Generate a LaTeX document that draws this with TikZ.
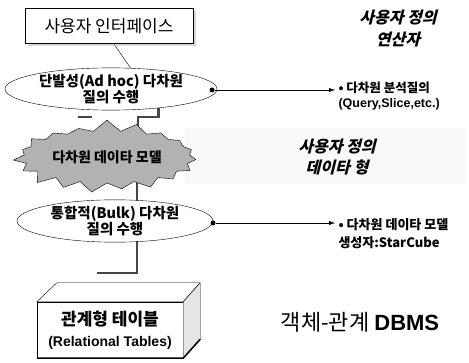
\documentclass[tikz,border=0pt]{standalone}
\usepackage{fontspec}
\setmainfont{Noto Sans CJK KR}
\newfontfamily\krslant{Noto Sans CJK KR}[FakeSlant=0.25]
\newfontfamily\latin{Liberation Sans}
\usetikzlibrary{shapes.geometric, shapes.symbols, shadows, backgrounds, arrows.meta}

\begin{document}
\begin{tikzpicture}[x=1pt, y=-1pt,
	uibx/.style={draw,fill=white,minimum width=168pt,minimum height=35pt,
		drop shadow={shadow xshift=3pt,shadow yshift=-3pt,fill=gray!60}},
	qry/.style={draw,ellipse,fill=white,inner sep=0pt,align=center,
		font=\bfseries\fontsize{14.5}{15}\selectfont},
	gln/.style={draw=gray!55!black,line width=2.5pt},
	dt/.style={circle,fill=black,inner sep=0pt,minimum size=5pt},
	bul/.style={anchor=west,align=left,font=\bfseries\fontsize{12.5}{15}\selectfont},
	usr/.style={align=center,font=\krslant\bfseries\fontsize{16}{22}\selectfont}]
	\useasboundingbox (0,0) rectangle (469,363);
	\fill[gray!5] (185,128) rectangle (466,184);
	\node[uibx,font=\fontsize{17}{18}\selectfont] (ui) at (109,26) {사용자 인터페이스};
	\node[qry,minimum width=212pt,minimum height=42pt] (q1) at (111,89) {단발성(Ad hoc) 다차원\\질의 수행};
	\node[starburst,draw,fill=gray!60,starburst points=19,starburst point height=12pt,
		random starburst=7,minimum width=190pt,minimum height=76pt,
		font=\bfseries\fontsize{14}{14}\selectfont] (st) at (107,157) {다차원 데이타 모델};
	\node[qry,minimum width=196pt,minimum height=42pt] (q2) at (115,221) {통합적(Bulk) 다차원\\질의 수행};
	% relational box
	\node[draw,fill=white,minimum width=146pt,minimum height=56pt,align=center,
		font=\bfseries\fontsize{17}{21}\selectfont] (rt) at (110,330)
		{관계형 테이블\\{\latin\fontsize{14}{16}\selectfont(Relational Tables)}};
	\draw[fill=white] (rt.north west) -- ++(20,-19) -- ++(143,0) -- (rt.north east) -- cycle;
	\draw[fill=gray!20] (rt.north east) -- ++(17,-19) -- ++(0,57) -- (rt.south east) -- cycle;
	\draw[line width=1.5pt] (rt.south west) -- (rt.south east) -- ++(17,-19);
	% right side
	\node[dt] (d1) at (212,90) {};
	\node[bul] (b1) at (335,96) {• 다차원 분석질의\\{\latin(Query,Slice,etc.)}};
	\draw[-{Latex[length=6pt,width=4pt]}] (d1) -- (d1 -| b1.west);
	\node[dt] (d2) at (213,223) {};
	\node[bul,font=\bfseries\fontsize{13}{18}\selectfont] (b2) at (335,234) {• 다차원 데이타 모델\\생성자:StarCube};
	\draw[-{Latex[length=6pt,width=4pt]}] (d2) -- (d2 -| b2.west);
	\node[usr] (op) at (398,29) {사용자 정의\\연산자};
	\node[usr,font=\krslant\bfseries\fontsize{16}{21}\selectfont] (ty) at (337,157) {사용자 정의\\데이타 형};
	\node[font=\fontsize{22}{24}\selectfont] (db) at (360,322) {객체-관계 {\latin\bfseries DBMS}};
	\begin{scope}[on background layer]
		\draw (ui.-75) -- (q1.47);
		\coordinate (j1) at (138,117);
		\draw[gln] (q1.-22) |- (j1) -- (j1 |- st.center);
		\coordinate (j2) at (137,273);
		\draw[gln] (j2 |- st.center) -- (j2 |- q2.center);
		\draw[gln] (j2 |- q2.center) -- (j2) -- ++(-40,0);
		\draw[gln,line width=2pt] (78,117) -- (92,117);
	\end{scope}
\end{tikzpicture}
\end{document}
